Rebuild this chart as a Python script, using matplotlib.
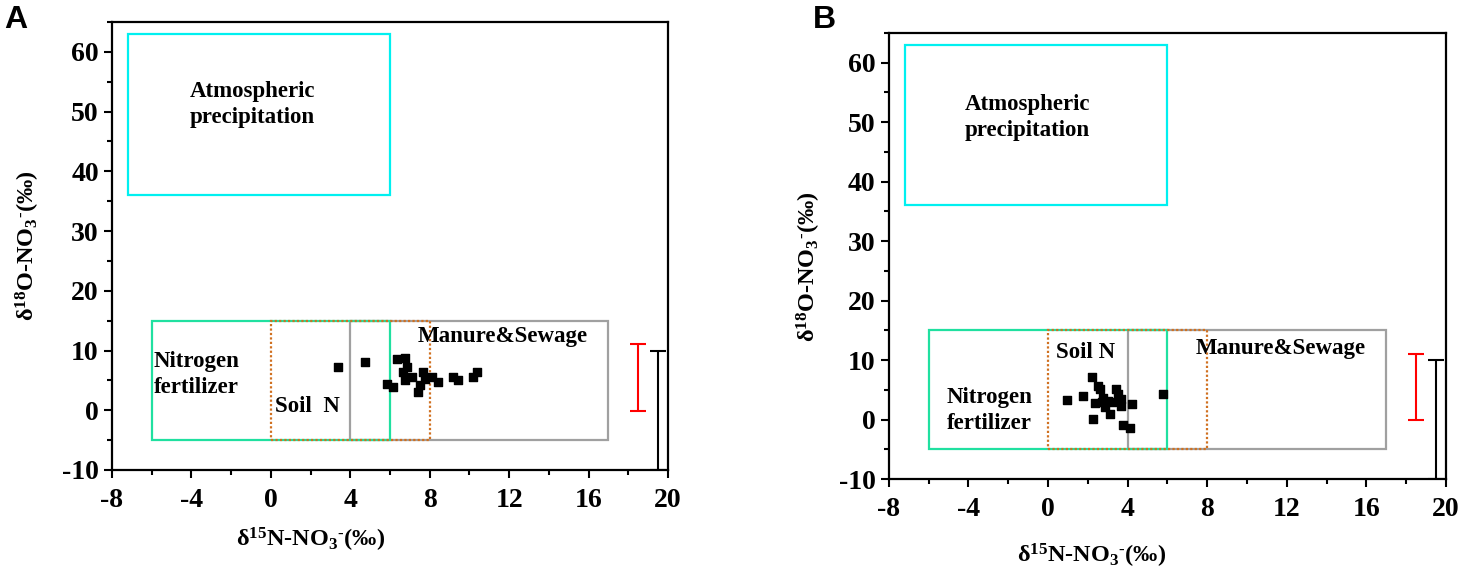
import matplotlib
matplotlib.use("Agg")
import matplotlib.pyplot as plt
from matplotlib.patches import Rectangle
from matplotlib.ticker import MultipleLocator

plt.rcParams['font.family'] = ['Liberation Serif', 'DejaVu Serif']
plt.rcParams['font.weight'] = 'bold'
plt.rcParams['axes.unicode_minus'] = False
plt.rcParams['mathtext.fontset'] = 'custom'
plt.rcParams['mathtext.rm'] = 'Liberation Serif:bold'
plt.rcParams['mathtext.it'] = 'Liberation Serif:italic:bold'
plt.rcParams['mathtext.bf'] = 'Liberation Serif:bold'

# --- data ---
# panel A samples (d15N, d18O)
a_n15 = [3.4, 4.75, 6.33, 6.75, 6.84, 6.67, 5.83, 6.17, 6.75, 7.09, 7.68, 7.76,
         7.42, 7.51, 8.1, 8.43, 9.19, 9.44, 10.19, 10.36]
a_o18 = [7.3, 8.05, 8.6, 8.7, 7.2, 6.4, 4.45, 3.9, 5.0, 5.55, 6.4, 5.3,
         3.05, 4.2, 5.55, 4.7, 5.55, 5.0, 5.55, 6.4]

# panel B samples
b_n15 = [0.93, 1.76, 2.19, 2.52, 2.6, 2.35, 2.27, 2.69, 2.85, 2.77, 3.1, 3.19,
         3.44, 3.52, 3.69, 3.69, 4.2, 3.77, 4.14, 2.99, 5.78]
b_o18 = [3.3, 3.9, 7.2, 5.7, 5.1, 2.8, 0.1, 2.9, 2.05, 3.7, 0.95, 2.9,
         5.1, 4.3, 3.45, 2.3, 2.6, -1.0, -1.4, 3.2, 4.3]

# source boxes: name -> (x0, x1, y0, y1)
src_names = ['Atmospheric', 'Nitrogen fertilizer', 'Soil N', 'Manure&Sewage']
src_x = [(-7.2, 6), (-6, 6), (0, 8), (4, 17)]
src_y = [(36, 63), (-5, 15), (-5, 15), (-5, 15)]

# vertical range bars at the right edge
bar_x = [18.5, 19.5]
bar_lo = [-0.1, -10]
bar_hi = [11.1, 10]

xlim = (-8, 20)
ylim = (-10, 65)

box_style = {
    'Atmospheric': dict(edgecolor='#00f0f0', lw=1.6, ls='-'),
    'Nitrogen fertilizer': dict(edgecolor='#20e0a0', lw=1.6, ls='-'),
    'Soil N': dict(edgecolor='#d07020', lw=1.6, ls=(0, (1, 1))),
    'Manure&Sewage': dict(edgecolor='#a0a0a0', lw=1.6, ls='-'),
}
box_order = ['Manure&Sewage', 'Nitrogen fertilizer', 'Atmospheric', 'Soil N']

fig = plt.figure(figsize=(14.62, 5.8), dpi=100)
ax_a = fig.add_axes([0.0766, 0.1897, 0.3803, 0.7724])
ax_b = fig.add_axes([0.608, 0.1741, 0.381, 0.769])


def draw_panel(ax, xs, ys, texts, xlab_pos, ylab_pos):
    for name in box_order:
        i = src_names.index(name)
        (x0, x1), (y0, y1) = src_x[i], src_y[i]
        ax.add_patch(Rectangle((x0, y0), x1 - x0, y1 - y0, fill=False,
                               zorder=2, **box_style[name]))

    ax.scatter(xs, ys, marker='s', s=36, color='black', zorder=4)

    colors = ['red', 'black']
    for bx, lo, hi, c in zip(bar_x, bar_lo, bar_hi, colors):
        ax.errorbar([bx], [(lo + hi) / 2], yerr=[(hi - lo) / 2], color=c,
                    lw=1.5, capsize=6, capthick=1.5, zorder=3)

    for (tx, ty, s) in texts:
        ax.text(tx, ty, s, fontsize=16.5, fontweight='bold', va='center',
                ha='left', linespacing=1.35, zorder=5)

    ax.set_xlim(*xlim)
    ax.set_ylim(*ylim)
    ax.xaxis.set_major_locator(MultipleLocator(4))
    ax.xaxis.set_minor_locator(MultipleLocator(2))
    ax.yaxis.set_major_locator(MultipleLocator(10))
    ax.yaxis.set_minor_locator(MultipleLocator(5))
    ax.set_yticks(range(-10, 61, 10))
    ax.tick_params(which='major', length=6, width=1.5, labelsize=20)
    ax.tick_params(axis='x', which='major', pad=7)
    ax.tick_params(which='minor', length=3.5, width=1.5)
    for sp in ax.spines.values():
        sp.set_linewidth(1.6)
    for lab in ax.get_xticklabels() + ax.get_yticklabels():
        lab.set_fontweight('bold')

    ax.set_xlabel('δ$^{15}$N-NO$_{3}$$^{\u2010}$(‰)', fontsize=17.5, fontweight='bold')
    ax.set_ylabel('δ$^{18}$O-NO$_{3}$$^{\u2010}$(‰)', fontsize=17.5, fontweight='bold')
    ax.xaxis.set_label_coords(*xlab_pos)
    ax.yaxis.set_label_coords(*ylab_pos)


draw_panel(ax_a, a_n15, a_o18,
           [(-4.1, 51.2, 'Atmospheric\nprecipitation'),
            (-5.9, 6.0, 'Nitrogen\nfertilizer'),
            (0.2, 0.6, 'Soil  N'),
            (7.4, 12.3, 'Manure&Sewage')],
           (0.358, -0.125), (-0.125, 0.5))

draw_panel(ax_b, b_n15, b_o18,
           [(-4.2, 50.8, 'Atmospheric\nprecipitation'),
            (-5.1, 1.5, 'Nitrogen\nfertilizer'),
            (0.4, 11.3, 'Soil N'),
            (7.4, 12.0, 'Manure&Sewage')],
           (0.364, -0.14), (-0.118, 0.475))

fig.text(0.003, 0.965, 'A', fontsize=23, fontweight='bold',
         family='Liberation Sans', va='center', ha='left')
fig.text(0.556, 0.965, 'B', fontsize=23, fontweight='bold',
         family='Liberation Sans', va='center', ha='left')

fig.savefig('out.png', dpi=100, facecolor='white')
